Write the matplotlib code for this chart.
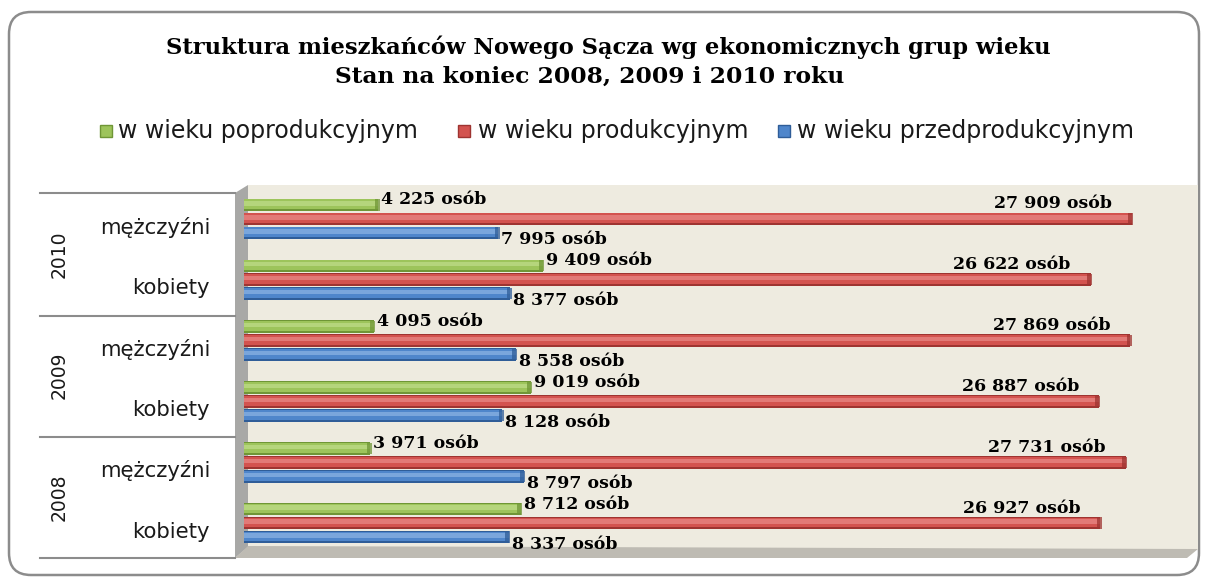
import matplotlib
matplotlib.use("Agg")
import matplotlib.pyplot as plt
from matplotlib.patches import FancyBboxPatch, Polygon, Rectangle
import numpy as np

W, H = 1208, 579

# ---------------- data ----------------
years = ["2010", "2009", "2008"]
sexes = ["mężczyźni", "kobiety"]
series_names = ["w wieku poprodukcyjnym", "w wieku produkcyjnym", "w wieku przedprodukcyjnym"]
# order of rows top -> bottom: 2010 m, 2010 k, 2009 m, 2009 k, 2008 m, 2008 k
poprodukcyjny = [4225, 9409, 4095, 9019, 3971, 8712]
produkcyjny = [27909, 26622, 27869, 26887, 27731, 26927]
przedprodukcyjny = [7995, 8377, 8558, 8128, 8797, 8337]
colors = ["#9DC45B", "#D3534F", "#4F86CB"]
dark = ["#6F9636", "#9E3431", "#2F5D98"]
light = ["#B5D57C", "#E27A77", "#7AA6DC"]

def fx(px):
    return px / W

def fy(py):
    return 1 - py / H

fig = plt.figure(figsize=(W / 100, H / 100), dpi=100)
fig.patch.set_facecolor("white")

# outer rounded border
border = FancyBboxPatch((fx(9), fy(575)), fx(1199) - fx(9), fy(12) - fy(575),
                        boxstyle="round,pad=0,rounding_size=%f" % (22 / W),
                        transform=fig.transFigure, facecolor="white",
                        edgecolor="#8C8C8C", linewidth=1.8, mutation_aspect=W / H, zorder=0)
fig.patches.append(border)

# 3D walls
back = Polygon([(fx(248), fy(185)), (fx(1198), fy(185)), (fx(1198), fy(550)), (fx(248), fy(547))],
               closed=True, transform=fig.transFigure, facecolor="#EEEBE0", edgecolor="none", zorder=0.5)
leftwall = Polygon([(fx(235), fy(193)), (fx(248), fy(185)), (fx(248), fy(547)), (fx(235), fy(558))],
                   closed=True, transform=fig.transFigure, facecolor="#A8A8A6", edgecolor="none", zorder=0.5)
floor = Polygon([(fx(235), fy(558)), (fx(248), fy(546)), (fx(1198), fy(549)), (fx(1187), fy(558))],
                closed=True, transform=fig.transFigure, facecolor="#BEBBB3", edgecolor="none", zorder=0.5)
for p in (back, leftwall, floor):
    fig.patches.append(p)

# category separator lines
for py in (193, 316, 437, 558):
    fig.add_artist(plt.Line2D([fx(40), fx(235)], [fy(py), fy(py)], transform=fig.transFigure,
                              color="#8C8C8C", linewidth=1.5))

# axes for bars
ax = fig.add_axes([fx(244), fy(558), fx(1198) - fx(244), fy(193) - fy(558)])
ax.set_zorder(5)
ax.patch.set_alpha(0)
ax.set_xlim(0, 30000)
n = len(produkcyjny)
ax.set_ylim(-0.5, n - 0.5)
ax.axis("off")

rowpx = (558 - 193) / n
ypos = np.arange(n)[::-1].astype(float)  # top row first
pitch = 14.0 / rowpx
bh = 12.5 / rowpx
offs = [pitch + 4.5 / rowpx, 4.5 / rowpx, -pitch + 4.5 / rowpx]
data = [poprodukcyjny, produkcyjny, przedprodukcyjny]
pxdata = 30000 / (1198 - 244)
cap = 5 * pxdata

for vals, off, c, d, l in zip(data, offs, colors, dark, light):
    yy = ypos + off
    v = np.array(vals, dtype=float)
    ax.barh(yy, v + 120, height=bh, color=d, edgecolor="none", left=-120)
    ax.barh(yy + 0.05 * bh, v + 120, height=0.78 * bh, color=c, edgecolor="none", left=-120)
    ax.barh(yy + 0.12 * bh, v + 120, height=0.36 * bh, color=l, edgecolor="none", left=-120)
    # rounded end cap shading
    ax.barh(yy, cap, height=0.9 * bh, color=d, edgecolor="none", left=v - cap + 40, alpha=0.75)

def fmt(v):
    s = f"{v:,}".replace(",", " ")
    return s + " osób"

lab_kw = dict(fontfamily="DejaVu Serif", fontweight="bold", fontsize=12.5, color="black")
for i in range(n):
    ax.text(poprodukcyjny[i] + 3 * pxdata, ypos[i] + offs[0] + 5 / rowpx, fmt(poprodukcyjny[i]),
            ha="left", va="center", **lab_kw)
    ax.text(produkcyjny[i] - 20 * pxdata, ypos[i] + offs[1] + 15 / rowpx, fmt(produkcyjny[i]),
            ha="right", va="center", **lab_kw)
    ax.text(przedprodukcyjny[i] + 3 * pxdata, ypos[i] + offs[2] - 7 / rowpx, fmt(przedprodukcyjny[i]),
            ha="left", va="center", **lab_kw)

# category labels
for gi, yr in enumerate(years):
    top = 193 + gi * 2 * rowpx
    fig.text(fx(59), fy(top + rowpx), yr, rotation=90, ha="center", va="center",
             fontfamily="DejaVu Sans", fontsize=13.5, color="#1a1a1a")
    for si, sx in enumerate(sexes):
        cy = top + (si + 0.5) * rowpx + 4
        fig.text(fx(210), fy(cy), sx, ha="right", va="center",
                 fontfamily="DejaVu Sans", fontsize=15.3, color="#1a1a1a")

# title
fig.text(fx(608), fy(47), "Struktura mieszkańców Nowego Sącza wg ekonomicznych grup wieku",
         ha="center", va="center", fontfamily="DejaVu Serif", fontweight="bold", fontsize=16.3)
fig.text(fx(590), fy(77), "Stan na koniec 2008, 2009 i 2010 roku",
         ha="center", va="center", fontfamily="DejaVu Serif", fontweight="bold", fontsize=16.8)

# legend
leg_items = [(100, 118), (458, 478), (778, 797)]
for (sqx, tx), name, c, d in zip(leg_items, series_names, colors, dark):
    fig.patches.append(Rectangle((fx(sqx), fy(137)), fx(12), 12 / H, transform=fig.transFigure,
                                 facecolor=c, edgecolor=d, linewidth=1, zorder=2))
    fig.text(fx(tx), fy(131), name, ha="left", va="center", fontfamily="DejaVu Sans",
             fontsize=17, color="#1a1a1a")

fig.savefig("out.png", dpi=100)
